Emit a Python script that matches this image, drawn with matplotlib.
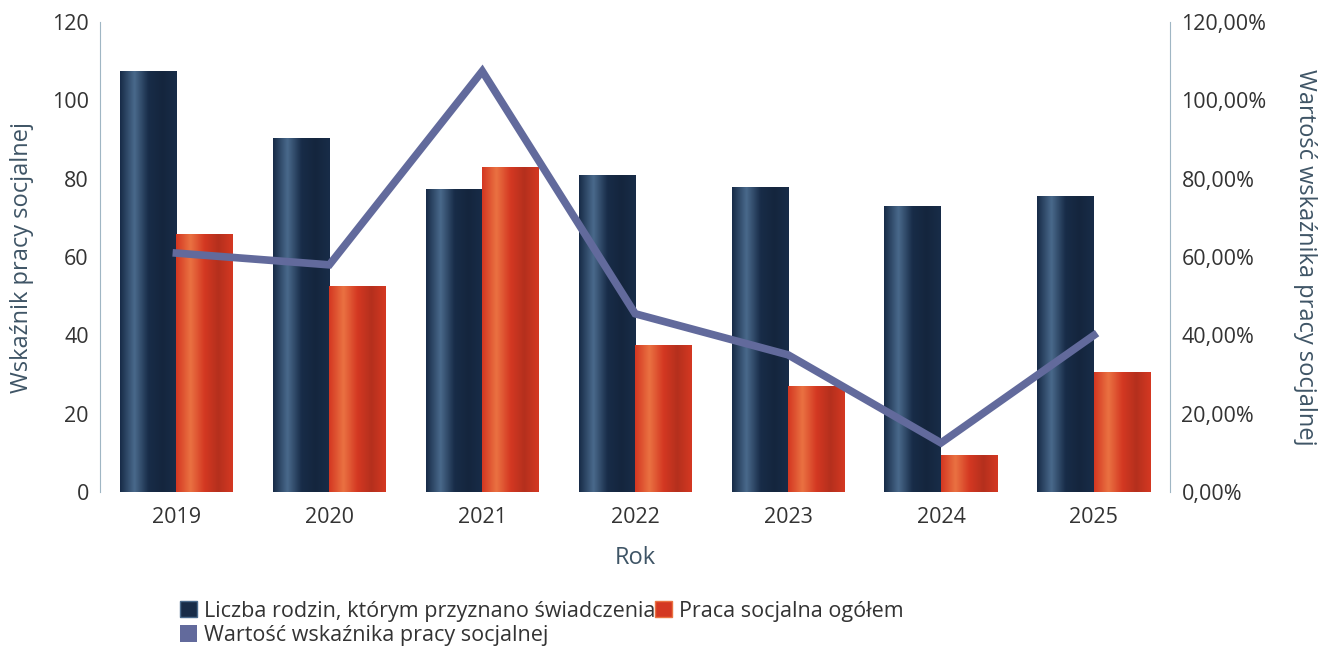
import matplotlib
matplotlib.use("Agg")
import matplotlib.pyplot as plt
import numpy as np
from matplotlib.patches import Patch
from matplotlib.ticker import FuncFormatter
from matplotlib.colors import LinearSegmentedColormap

plt.rcParams['font.family'] = ['Open Sans', 'DejaVu Sans']

years = ["2019", "2020", "2021", "2022", "2023", "2024", "2025"]
rodziny = [107.5, 90.5, 77.5, 81.0, 78.0, 73.0, 75.5]
praca = [66.0, 52.5, 83.0, 37.5, 27.0, 9.5, 30.5]
wskaznik = [61.0, 58.0, 107.5, 45.5, 35.0, 12.5, 40.0]

lbl_rodziny = "Liczba rodzin, którym przyznano świadczenia"
lbl_praca = "Praca socjalna ogółem"
lbl_wsk = "Wartość wskaźnika pracy socjalnej"

navy_dark = np.array([0x18, 0x2c, 0x48]) / 255
navy_light = np.array([0x4a, 0x6a, 0x8c]) / 255
red_dark = np.array([0xd4, 0x38, 0x22]) / 255
red_light = np.array([0xea, 0x72, 0x42]) / 255
line_col = "#626a9c"
text_col = "#333333"
label_col = "#3f5566"

fig = plt.figure(figsize=(13.33, 6.54), dpi=100)
ax = fig.add_axes([0.075, 0.248, 0.803, 0.718])
ax2 = ax.twinx()

x = np.arange(len(years))
w = 0.37

def grad_cmap(dark, light):
    return LinearSegmentedColormap.from_list("g", [dark, light, dark, dark * 0.85, dark])

cm_navy = grad_cmap(navy_dark, navy_light)
cm_red = grad_cmap(red_dark, red_light)
grad = np.linspace(0, 1, 64).reshape(1, -1)

b1 = ax.bar(x - w / 2, rodziny, w, color=navy_dark, zorder=2)
b2 = ax.bar(x + w / 2, praca, w, color=red_dark, zorder=2)
for bars, cm in ((b1, cm_navy), (b2, cm_red)):
    for r in bars:
        x0, y0 = r.get_x(), r.get_y()
        im = ax.imshow(grad, cmap=cm, aspect="auto",
                       extent=(x0, x0 + r.get_width(), y0, y0 + r.get_height()),
                       zorder=2.5, interpolation="bicubic")
        im.set_clip_path(r)

ax2.plot(x, wskaznik, color=line_col, lw=5.5, solid_joinstyle="miter", zorder=5)

ax.set_xlim(-0.5, len(years) - 0.5)
ax.set_ylim(0, 120)
ax2.set_ylim(0, 120)
ax.set_yticks(range(0, 121, 20))
ax2.set_yticks(range(0, 121, 20))
ax2.yaxis.set_major_formatter(FuncFormatter(lambda v, p: f"{v:.2f}".replace(".", ",") + "%"))
ax.set_xticks(x)
ax.set_xticklabels(years)

for a in (ax, ax2):
    a.tick_params(length=0, labelsize=15.5, colors=text_col, pad=8)
    for s in ("top", "bottom"):
        a.spines[s].set_visible(False)
ax.spines["right"].set_visible(False)
ax2.spines["left"].set_visible(False)
ax.spines["left"].set_color("#9fb6c4")
ax.spines["left"].set_linestyle((0, (6, 1)))
ax2.spines["right"].set_color("#9fb6c4")
ax2.spines["right"].set_linestyle((0, (6, 1)))
ax.tick_params(axis="x", pad=11)
ax2.patch.set_visible(False)
ax.set_zorder(1); ax2.set_zorder(2)

ax.set_xlabel("Rok", fontsize=17, color=label_col)
ax.xaxis.set_label_coords(0.5, -0.115)
ax.set_ylabel("Wskaźnik pracy socjalnej", fontsize=17, color=label_col)
ax.yaxis.set_label_coords(-0.062, 0.5)
ax2.set_ylabel("Wartość wskaźnika pracy socjalnej", fontsize=17, color=label_col,
               rotation=270, va="center")
ax2.yaxis.set_label_coords(1.126, 0.5)

handles = [Patch(facecolor=navy_dark, edgecolor=navy_light, label=lbl_rodziny),
           Patch(facecolor=line_col, label=lbl_wsk),
           Patch(facecolor=red_dark, edgecolor=red_light, label=lbl_praca)]
leg = fig.legend(handles=handles, ncol=2, loc="upper left", bbox_to_anchor=(0.127, 0.098),
                 frameon=False, fontsize=15.5, handlelength=0.8, handleheight=0.8,
                 handletextpad=0.3, columnspacing=0.0, labelspacing=0.15, borderpad=0)
for t in leg.get_texts():
    t.set_color(text_col)

fig.savefig("out.png", dpi=100, facecolor="white")
